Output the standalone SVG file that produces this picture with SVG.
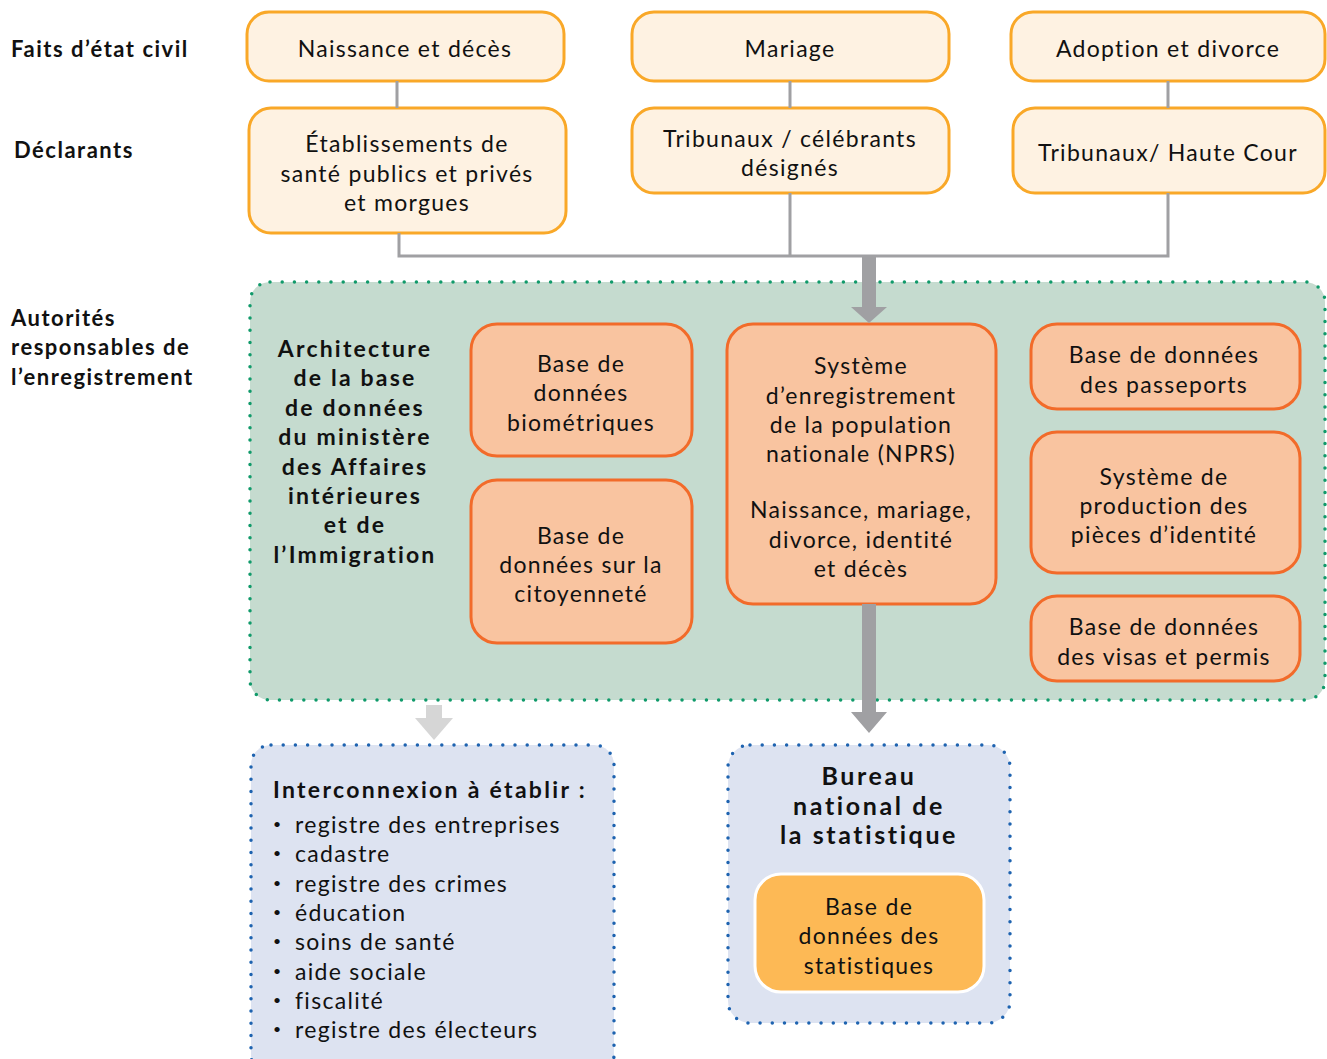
<svg xmlns="http://www.w3.org/2000/svg" width="1327" height="1059" viewBox="0 0 1327 1059">
<style>
text{font-family:Lato,"Noto Sans",sans-serif;fill:#111;}
.t{font-size:23px;text-anchor:middle;letter-spacing:1.3px;}
.h{font-size:22px;font-weight:bold;letter-spacing:1.5px;}
.hc{font-size:23px;font-weight:bold;text-anchor:middle;letter-spacing:2.2px;}
.hb{font-size:25px;font-weight:bold;text-anchor:middle;letter-spacing:2.6px;}
.top{fill:#FEF2E2;stroke:#F9A828;stroke-width:3;}
.db{fill:#F9C4A0;stroke:#F26B2A;stroke-width:3;}
.ln{stroke:#A0A0A3;stroke-width:3;fill:none;}
.li{font-size:23px;letter-spacing:1.3px;}
.dotg{stroke-width:3.5;stroke-dasharray:0 12.2;stroke-linecap:round;}
.bul{fill:#111;}
</style>
<g id="labels">
<text class="h" x="11" y="57">Faits d’état civil</text>
<text class="h" x="14" y="158">Déclarants</text>
<text class="h" x="11" y="326">Autorités</text>
<text class="h" x="11" y="355">responsables de</text>
<text class="h" x="11" y="385">l’enregistrement</text>
</g>
<g id="n1"><rect class="top" x="247" y="12" width="317" height="69" rx="22"/><text class="t" x="405" y="57">Naissance et décès</text></g>
<g id="n2"><rect class="top" x="632" y="12" width="317" height="69" rx="22"/><text class="t" x="790" y="57">Mariage</text></g>
<g id="n3"><rect class="top" x="1011" y="12" width="314" height="69" rx="22"/><text class="t" x="1168" y="57">Adoption et divorce</text></g>
<g id="n4"><rect class="top" x="249" y="108" width="317" height="125" rx="22"/><text class="t" x="407" y="152">Établissements de</text><text class="t" x="407" y="182">santé publics et privés</text><text class="t" x="407" y="211">et morgues</text></g>
<g id="n5"><rect class="top" x="632" y="108" width="317" height="85" rx="22"/><text class="t" x="790" y="147">Tribunaux / célébrants</text><text class="t" x="790" y="176">désignés</text></g>
<g id="n6"><rect class="top" x="1013" y="108" width="312" height="85" rx="22"/><text class="t" x="1168" y="161">Tribunaux/ Haute Cour</text></g>
<g id="ministere">
<rect class="dotg" x="250" y="282" width="1075" height="418" rx="20" fill="#C5DBCF" stroke="#109A6A"/>
<text class="hc" x="355" y="357">Architecture</text>
<text class="hc" x="355" y="386">de la base</text>
<text class="hc" x="355" y="416">de données</text>
<text class="hc" x="355" y="445">du ministère</text>
<text class="hc" x="355" y="475">des Affaires</text>
<text class="hc" x="355" y="504">intérieures</text>
<text class="hc" x="355" y="533">et de</text>
<text class="hc" x="355" y="563">l’Immigration</text>
</g>
<g id="bio"><rect class="db" x="471" y="324" width="221" height="132" rx="26"/><text class="t" x="581" y="372">Base de</text><text class="t" x="581" y="401">données</text><text class="t" x="581" y="431">biométriques</text></g>
<g id="cit"><rect class="db" x="471" y="480" width="221" height="163" rx="26"/><text class="t" x="581" y="544">Base de</text><text class="t" x="581" y="573">données sur la</text><text class="t" x="581" y="602">citoyenneté</text></g>
<g id="nprs"><rect class="db" x="727" y="324" width="269" height="280" rx="26"/>
<text class="t" x="861" y="374">Système</text><text class="t" x="861" y="404">d’enregistrement</text><text class="t" x="861" y="433">de la population</text><text class="t" x="861" y="462">nationale (NPRS)</text>
<text class="t" x="861" y="518">Naissance, mariage,</text><text class="t" x="861" y="548">divorce, identité</text><text class="t" x="861" y="577">et décès</text></g>
<g id="pass"><rect class="db" x="1031" y="324" width="269" height="85" rx="26"/><text class="t" x="1164" y="363">Base de données</text><text class="t" x="1164" y="393">des passeports</text></g>
<g id="prod"><rect class="db" x="1031" y="432" width="269" height="141" rx="26"/><text class="t" x="1164" y="485">Système de</text><text class="t" x="1164" y="514">production des</text><text class="t" x="1164" y="543">pièces d’identité</text></g>
<g id="visa"><rect class="db" x="1031" y="596" width="269" height="85" rx="26"/><text class="t" x="1164" y="635">Base de données</text><text class="t" x="1164" y="665">des visas et permis</text></g>
<g id="inter">
<rect class="dotg" x="251" y="745" width="363" height="330" rx="20" fill="#DDE3F1" stroke="#1E63B0"/>
<text class="h" x="273" y="798" style="font-size:23px;letter-spacing:2.3px">Interconnexion à établir :</text>
<text class="bul" x="273" y="829" font-size="14">•</text><text class="li" x="295" y="833">registre des entreprises</text>
<text class="bul" x="273" y="858" font-size="14">•</text><text class="li" x="295" y="862">cadastre</text>
<text class="bul" x="273" y="888" font-size="14">•</text><text class="li" x="295" y="892">registre des crimes</text>
<text class="bul" x="273" y="917" font-size="14">•</text><text class="li" x="295" y="921">éducation</text>
<text class="bul" x="273" y="946" font-size="14">•</text><text class="li" x="295" y="950">soins de santé</text>
<text class="bul" x="273" y="976" font-size="14">•</text><text class="li" x="295" y="980">aide sociale</text>
<text class="bul" x="273" y="1005" font-size="14">•</text><text class="li" x="295" y="1009">fiscalité</text>
<text class="bul" x="273" y="1034" font-size="14">•</text><text class="li" x="295" y="1038">registre des électeurs</text>
</g>
<g id="bureau">
<rect class="dotg" x="728" y="745" width="282" height="278" rx="22" fill="#DDE3F1" stroke="#1E63B0"/>
<text class="hb" x="869" y="785">Bureau</text>
<text class="hb" x="869" y="815">national de</text>
<text class="hb" x="869" y="844">la statistique</text>
</g>
<g id="stats"><rect x="755" y="874" width="229" height="118" rx="26" fill="#FDB955" stroke="#fff" stroke-width="3"/><text class="t" x="869" y="915">Base de</text><text class="t" x="869" y="944">données des</text><text class="t" x="869" y="974">statistiques</text></g>
<g id="connectors">
<path class="ln" d="M397 81V108M790 81V108M1168 81V108M399 233V256H1168V193M790 193V256"/>
<path d="M862 256H876V307H887L869 323L851 307H862Z" fill="#A0A0A3"/>
<path d="M862 604H876V712H887L869 733L851 712H862Z" fill="#A0A0A3"/>
<path d="M426 705H442V718H453L434 740L415 718H426Z" fill="#D6D6D6"/>
</g>
</svg>
